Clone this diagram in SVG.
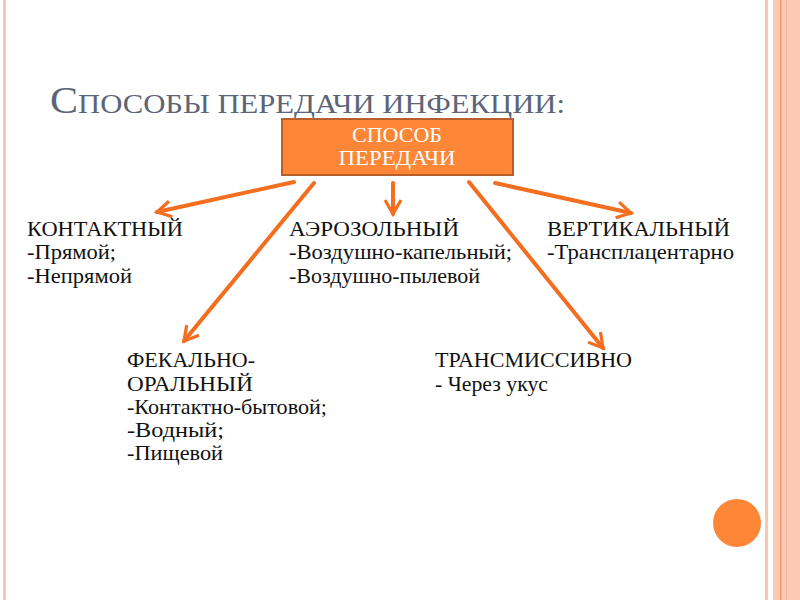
<svg xmlns="http://www.w3.org/2000/svg" width="800" height="600" viewBox="0 0 800 600">
<defs>
<style>
.t{font-family:serif;font-size:22px;fill:#111}
.w{font-family:serif;font-size:20px;fill:#fff}
.h{font-family:serif;fill:#5b6577}
.conn line{stroke:#f46e1f;stroke-width:4;stroke-linecap:round}
</style>
<marker id="ah" viewBox="0 0 10 10" refX="8" refY="5" markerWidth="5" markerHeight="5" orient="auto" markerUnits="strokeWidth">
<path d="M1,1 L8,5 L1,9" fill="none" stroke="#f46e1f" stroke-width="1.6" stroke-linejoin="miter"/>
</marker>
</defs>
<rect width="800" height="600" fill="#fff"/>
<g id="frame">
<rect x="3" y="0" width="3" height="600" fill="#f9c6b4"/>
<rect x="765" y="0" width="3" height="600" fill="#f9c6b4"/>
<rect x="773" y="0" width="27" height="600" fill="#fcc9b5"/>
<rect x="780" y="0" width="1.5" height="600" fill="#f59a6e"/>
<rect x="786" y="0" width="1" height="600" fill="#f7b394"/>
<circle cx="737" cy="523" r="24" fill="#fd8637"/>
</g>
<g id="title">
<text class="h" x="50" y="113" font-size="27" textLength="515" lengthAdjust="spacingAndGlyphs"><tspan font-size="37">С</tspan>ПОСОБЫ ПЕРЕДАЧИ ИНФЕКЦИИ:</text>
</g>
<g class="conn" id="connectors">
<line x1="294" y1="182" x2="157" y2="212" marker-end="url(#ah)"/>
<line x1="314" y1="183" x2="184" y2="341" marker-end="url(#ah)"/>
<line x1="393" y1="183" x2="393" y2="214" marker-end="url(#ah)"/>
<line x1="469" y1="182" x2="603" y2="348" marker-end="url(#ah)"/>
<line x1="495" y1="183" x2="631" y2="213" marker-end="url(#ah)"/>
</g>
<g id="root">
<rect x="282" y="119" width="231" height="56" fill="#fd8637" stroke="#b85e2a" stroke-width="2"/>
<text class="w" x="397" y="142" text-anchor="middle" textLength="90" lengthAdjust="spacingAndGlyphs">СПОСОБ</text>
<text class="w" x="397" y="165" text-anchor="middle" textLength="117" lengthAdjust="spacingAndGlyphs">ПЕРЕДАЧИ</text>
</g>
<g id="contact">
<text class="t" x="27" y="236" textLength="156" lengthAdjust="spacingAndGlyphs">КОНТАКТНЫЙ</text>
<text class="t" x="27" y="259" textLength="89" lengthAdjust="spacingAndGlyphs">-Прямой;</text>
<text class="t" x="27" y="283" textLength="105" lengthAdjust="spacingAndGlyphs">-Непрямой</text>
</g>
<g id="aerosol">
<text class="t" x="289" y="236" textLength="170" lengthAdjust="spacingAndGlyphs">АЭРОЗОЛЬНЫЙ</text>
<text class="t" x="289" y="259" textLength="223" lengthAdjust="spacingAndGlyphs">-Воздушно-капельный;</text>
<text class="t" x="289" y="283" textLength="191" lengthAdjust="spacingAndGlyphs">-Воздушно-пылевой</text>
</g>
<g id="vertical">
<text class="t" x="547" y="236" textLength="183" lengthAdjust="spacingAndGlyphs">ВЕРТИКАЛЬНЫЙ</text>
<text class="t" x="547" y="259" textLength="187" lengthAdjust="spacingAndGlyphs">-Трансплацентарно</text>
</g>
<g id="fecal">
<text class="t" x="127" y="367" textLength="128" lengthAdjust="spacingAndGlyphs">ФЕКАЛЬНО-</text>
<text class="t" x="127" y="391" textLength="126" lengthAdjust="spacingAndGlyphs">ОРАЛЬНЫЙ</text>
<text class="t" x="127" y="414" textLength="200" lengthAdjust="spacingAndGlyphs">-Контактно-бытовой;</text>
<text class="t" x="127" y="437" textLength="97" lengthAdjust="spacingAndGlyphs">-Водный;</text>
<text class="t" x="127" y="460" textLength="96" lengthAdjust="spacingAndGlyphs">-Пищевой</text>
</g>
<g id="transmissive">
<text class="t" x="435" y="367" textLength="197" lengthAdjust="spacingAndGlyphs">ТРАНСМИССИВНО</text>
<text class="t" x="435" y="391" textLength="113" lengthAdjust="spacingAndGlyphs">- Через укус</text>
</g>
</svg>
